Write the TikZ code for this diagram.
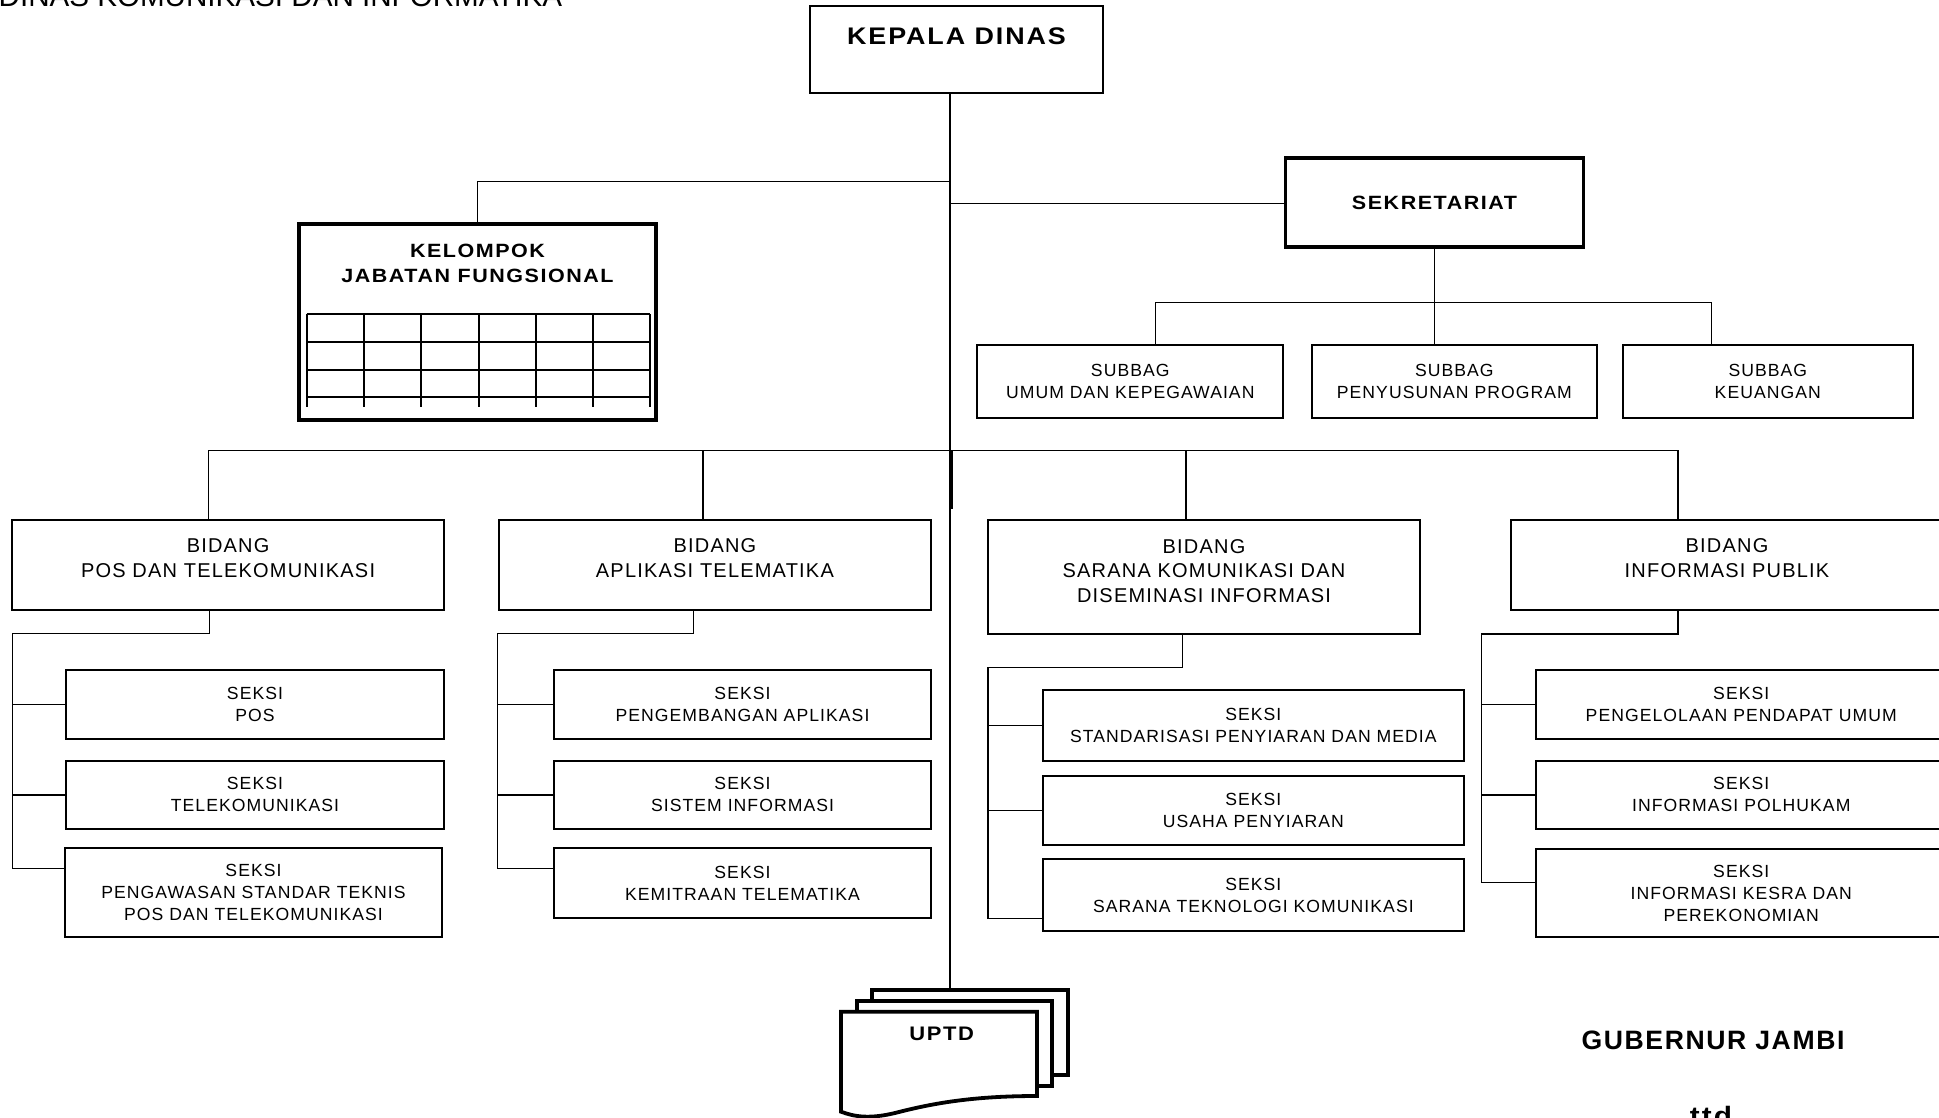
\documentclass[tikz,border=0pt]{standalone}
\usepackage{fontspec}
\setmainfont{Liberation Sans}
\newfontfamily\orgreg[LetterSpace=6]{Liberation Sans}
\newfontfamily\orgbf[LetterSpace=8,FakeStretch=1.12]{Liberation Sans}
\usetikzlibrary{positioning}
\tikzset{every node/.style={inner sep=0pt,align=center}}
\tikzset{bx/.style={rectangle,draw,line width=1pt,fill=white}}
\tikzset{tbx/.style={bx,line width=1.9pt}}
\tikzset{t/.style={font=\orgreg\fontsize{8.8}{11}\selectfont}}
\tikzset{bt/.style={font=\orgreg\fontsize{10}{12.25}\selectfont}}
\tikzset{hb/.style={font=\orgbf\bfseries\fontsize{9.6}{12.5}\selectfont}}

\begin{document}
\begin{tikzpicture}[x=0.5pt,y=-0.5pt,line width=0.65pt]
\useasboundingbox (0,0) rectangle (1939,1118);
      \node[anchor=base west,font=\fontsize{14.8}{17}\selectfont] (ttl) at (-2,6.3) {DINAS KOMUNIKASI DAN INFORMATIKA};

      \node[bx,minimum width=146.5pt,minimum height=43.35pt] (kd) at (956.5,49.35) {};
      \node[font=\orgbf\bfseries\fontsize{12}{14}\selectfont] (kdt) at (956.5,36) {KEPALA DINAS};
      \node[tbx,hb,minimum width=149pt,minimum height=44.2pt] (sek) at (1434.5,202.5) {SEKRETARIAT};
      \node[tbx,minimum width=178.5pt,minimum height=98pt] (jf) at (477.5,322) {};
      \node[hb] (jft) at (477.5,263.5) {KELOMPOK\\JABATAN FUNGSIONAL};
        \foreach \i in {0,...,6} \draw[line width=1pt] (306.7+57.28*\i,314.3) -- ++(0,93);
        \foreach \y in {314.3,341.7,369.7,397} \draw[line width=1pt] (306.7,\y) -- (650.4,\y);

      \node[bx,t,minimum width=153pt,minimum height=36.65pt] (su1) at (1130.3,381.65) {SUBBAG\\UMUM DAN KEPEGAWAIAN};
      \node[bx,t,minimum width=142.35pt,minimum height=36.65pt] (su2) at (1454.35,381.65) {SUBBAG\\PENYUSUNAN PROGRAM};
      \node[bx,t,minimum width=145.2pt,minimum height=36.65pt] (su3) at (1767.8,381.65) {SUBBAG\\KEUANGAN};

      \node[bx,minimum width=215.9pt,minimum height=45pt] (bd1) at (228.1,565) {};
      \node[bt] (bd1t) at (228.1,558) {BIDANG\\POS DAN TELEKOMUNIKASI};
      \node[bx,minimum width=215.9pt,minimum height=45pt] (bd2) at (714.9,565) {};
      \node[bt] (bd2t) at (714.9,558) {BIDANG\\APLIKASI TELEMATIKA};
      \node[bx,minimum width=216pt,minimum height=57pt] (bd3) at (1204,577) {};
      \node[bt] (bd3t) at (1204,571) {BIDANG\\SARANA KOMUNIKASI DAN\\DISEMINASI INFORMASI};
      \node[bx,minimum width=216pt,minimum height=45pt] (bd4) at (1727,565) {};
      \node[bt] (bd4t) at (1727,558) {BIDANG\\INFORMASI PUBLIK};

      \node[bx,t,minimum width=189pt,minimum height=34.65pt] (s11) at (255,704.65) {SEKSI\\POS};
      \node[bx,t,minimum width=189pt,minimum height=34.15pt] (s12) at (255,794.85) {SEKSI\\TELEKOMUNIKASI};
      \node[bx,t,minimum width=188.5pt,minimum height=44.2pt] (s13) at (253.5,892.5) {SEKSI\\PENGAWASAN STANDAR TEKNIS\\POS DAN TELEKOMUNIKASI};
      \node[bx,t,minimum width=188.3pt,minimum height=34.65pt] (s21) at (742.5,704.65) {SEKSI\\PENGEMBANGAN APLIKASI};
      \node[bx,t,minimum width=188.3pt,minimum height=34.15pt] (s22) at (742.5,794.85) {SEKSI\\SISTEM INFORMASI};
      \node[bx,t,minimum width=188.3pt,minimum height=35pt] (s23) at (742.5,883.3) {SEKSI\\KEMITRAAN TELEMATIKA};
      \node[bx,t,minimum width=210.35pt,minimum height=35.5pt] (s31) at (1253.35,725.5) {SEKSI\\STANDARISASI PENYIARAN DAN MEDIA};
      \node[bx,t,minimum width=210.35pt,minimum height=34.5pt] (s32) at (1253.35,810.5) {SEKSI\\USAHA PENYIARAN};
      \node[bx,t,minimum width=210.35pt,minimum height=36pt] (s33) at (1253.35,895) {SEKSI\\SARANA TEKNOLOGI KOMUNIKASI};
      \node[bx,t,minimum width=205.75pt,minimum height=34.65pt] (s41) at (1741.25,704.65) {SEKSI\\PENGELOLAAN PENDAPAT UMUM};
      \node[bx,t,minimum width=205.75pt,minimum height=34.15pt] (s42) at (1741.25,794.85) {SEKSI\\INFORMASI POLHUKAM};
      \node[bx,t,minimum width=205.75pt,minimum height=44.15pt] (s43) at (1741.25,893.15) {SEKSI\\INFORMASI KESRA DAN\\PEREKONOMIAN};

      \node[tbx,minimum width=98pt,minimum height=42.5pt] (up1) at (970,1032.5) {};
      \node[tbx,minimum width=97.5pt,minimum height=42.5pt] (up2) at (954.5,1043.5) {};
        \draw[line width=1.9pt,fill=white] (841,1011.7) -- (1037,1011.7) -- (1037,1096) .. controls (970,1096) and (930,1104) .. (895,1113) .. controls (870,1119) and (855,1117) .. (841,1111.7) -- cycle;
      \node[font=\orgbf\bfseries\fontsize{9.8}{12}\selectfont] (uptd) at (941.7,1034) {UPTD};

      \node[font=\orgreg\bfseries\fontsize{13.3}{15}\selectfont] (gub) at (1713,1040) {GUBERNUR JAMBI};
      \node[anchor=base,font=\orgbf\bfseries\fontsize{13.3}{15}\selectfont] (ttd) at (1711,1125) {ttd};

      \coordinate (j) at (950,450.7);
      \coordinate (ja) at (950,181.7);
      \coordinate (jb) at (950,203.3);
        \draw (kd.south -| j) -- (j |- up1.north);
        \draw (ja) -| (jf.north);
        \draw (jb) -- (jb -| sek.west);
        \draw (sek.south) -- (sek.south |- su2.north);
      \coordinate (sa) at (1155.5,302.3);
      \coordinate (sc) at (1711.3,302.3);
        \draw (sa |- su1.north) -- (sa) -- (sc) -- (sc |- su3.north);

      \coordinate (b1) at (208.2,450.7);
      \coordinate (b2) at (703,450.7);
      \coordinate (b3) at (1186,450.7);
      \coordinate (b4) at (1677.9,450.7);
        \draw (b1 |- bd1.north) -- (b1) -- (b4) -- (b4 |- bd4.north);
        \draw (b2) -- (b2 |- bd2.north);
        \draw (b3) -- (b3 |- bd3.north);
        \draw[line width=1.1pt] ([xshift=1pt]j) -- ++(0,58);

      \coordinate (k1) at (12.2,633.3);
      \coordinate (m1) at (209.4,633.3);
      \coordinate (k2) at (497.2,633.3);
      \coordinate (m2) at (693.8,633.3);
      \coordinate (k3) at (988,667.7);
      \coordinate (m3) at (1182.8,667.7);
      \coordinate (k4) at (1481.2,634);
      \coordinate (m4) at (1677.9,634);
        \draw (m1 |- bd1.south) -- (m1) -- (k1) |- ([yshift=12.1pt]s13.west);
        \draw (m2 |- bd2.south) -- (m2) -- (k2) |- ([yshift=7.5pt]s23.west);
        \draw (m3 |- bd3.south) -- (m3) -- (k3) |- ([yshift=-11.65pt]s33.west);
        \draw (m4 |- bd4.south) -- (m4) -- (k4) |- ([yshift=5.2pt]s43.west);
        \foreach \n in {1,2,3,4} \foreach \r in {1,2} \draw (k\n |- s\n\r.west) -- (s\n\r.west);
    \end{tikzpicture}
\end{document}
